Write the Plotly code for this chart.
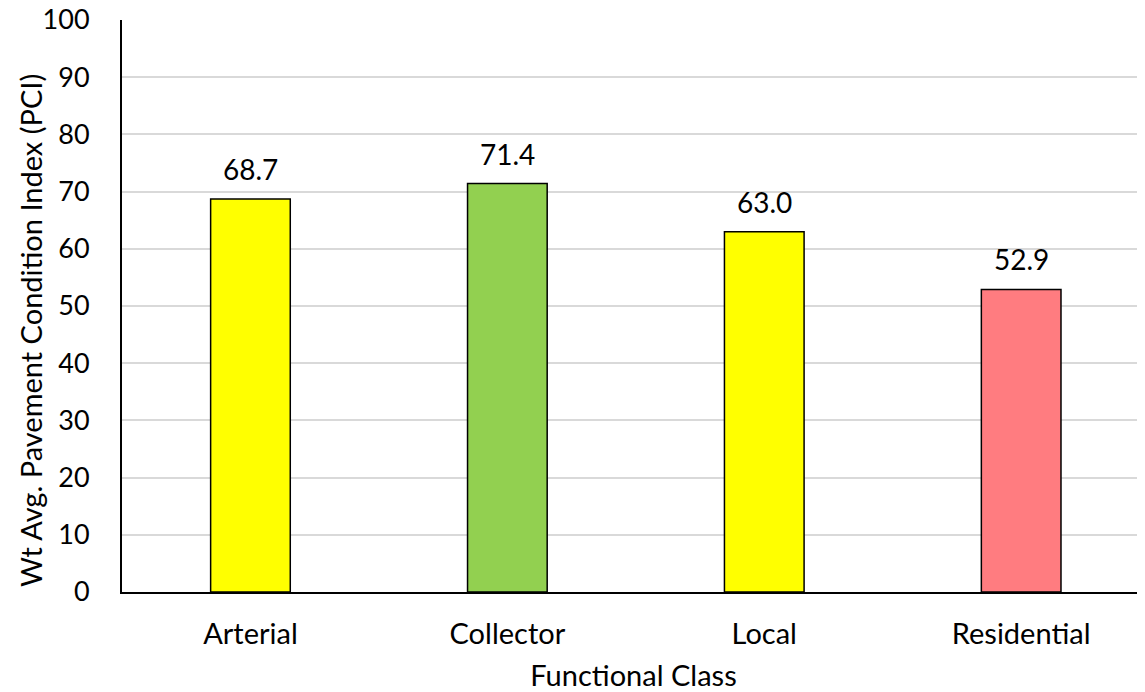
import plotly.graph_objects as go

categories = ["Arterial", "Collector", "Local", "Residential"]
values = [68.7, 71.4, 63.0, 52.9]
colors = ["#FFFF00", "#92D050", "#FFFF00", "#FF7C80"]
labels = ["68.7", "71.4", "63.0", "52.9"]
y_ticks = [0, 10, 20, 30, 40, 50, 60, 70, 80, 90, 100]
y_title = "Wt Avg. Pavement Condition Index (PCI)"
x_title = "Functional Class"

FONT = "Lato"

fig = go.Figure(
    go.Bar(
        x=categories,
        y=values,
        width=0.31,
        marker=dict(color=colors, line=dict(color="#000000", width=1.5)),
        cliponaxis=False,
        hoverinfo="x+y",
    )
)

for c, v, t in zip(categories, values, labels):
    fig.add_annotation(
        x=c, y=v, text=t, showarrow=False, yanchor="bottom", yshift=11,
        font=dict(family=FONT, size=28, color="#000000"),
    )

# y-axis title, placed slightly below the plot centre as in the reference
fig.add_annotation(
    xref="paper", yref="paper", x=-0.09, y=0.458, text=y_title,
    textangle=-90, showarrow=False, xanchor="center", yanchor="middle",
    font=dict(family=FONT, size=29, color="#000000"),
)

# page body has an 8px default margin, so size the figure to fill the rest
fig.update_layout(
    width=1137,
    height=684,
    margin=dict(l=114, r=0, t=12, b=100),
    plot_bgcolor="#FFFFFF",
    paper_bgcolor="#FFFFFF",
    font=dict(family=FONT, size=28, color="#000000"),
    showlegend=False,
    xaxis=dict(
        range=[-0.5, 3.482],
        automargin=False,
        showline=True,
        linecolor="#000000",
        linewidth=2,
        showgrid=False,
        ticks="",
        ticklabelstandoff=15,
        tickfont=dict(family=FONT, size=29),
        title=dict(text=x_title, font=dict(family=FONT, size=29), standoff=19),
    ),
    yaxis=dict(
        range=[0, 100],
        tickvals=y_ticks,
        automargin=False,
        showline=True,
        linecolor="#000000",
        linewidth=2,
        showgrid=True,
        gridcolor="#D9D9D9",
        gridwidth=1.5,
        zeroline=False,
        ticks="",
        ticklabelstandoff=25,
        ticklabeloverflow="allow",
        tickfont=dict(family=FONT, size=27),
    ),
)

fig.write_html("out.html")
